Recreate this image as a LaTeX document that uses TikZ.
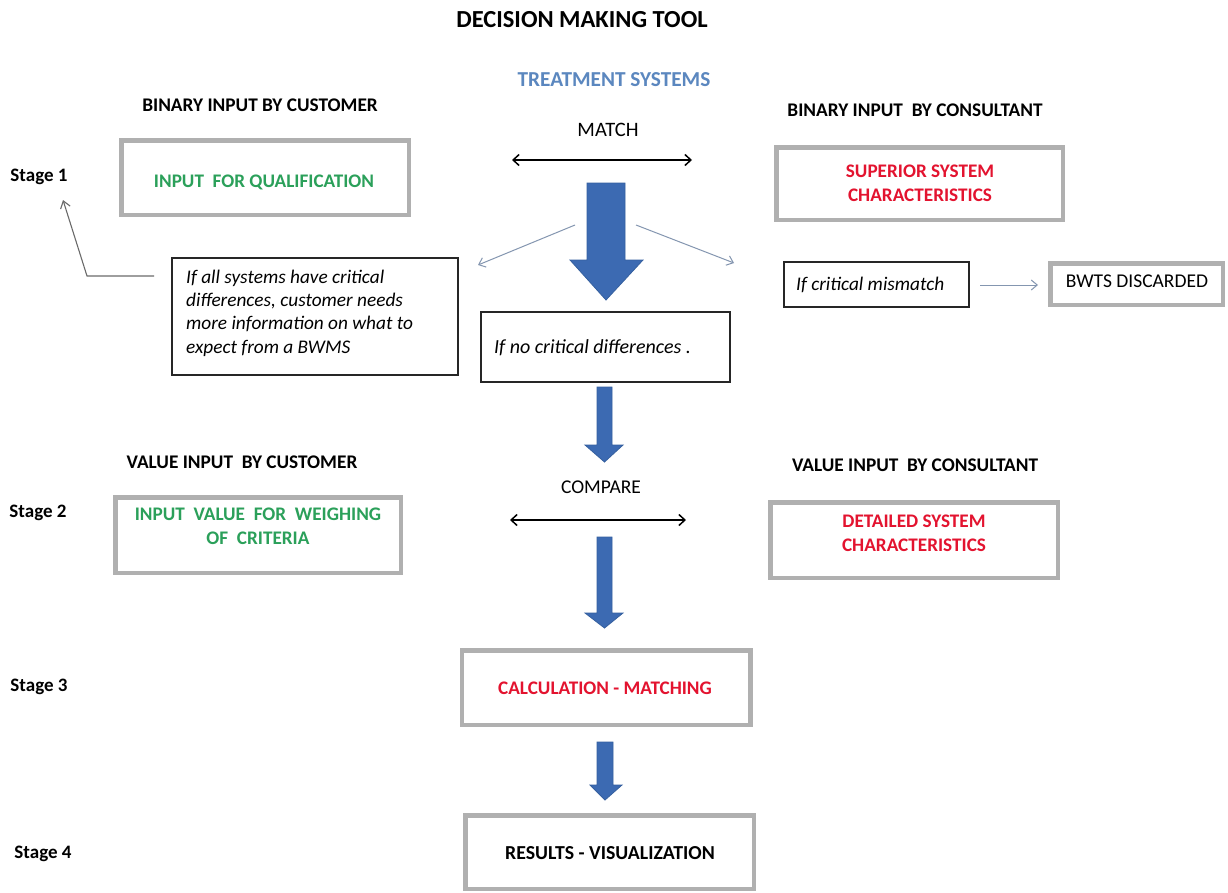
\documentclass[tikz,border=0pt]{standalone}
\usepackage{fontspec}
\setmainfont{Carlito}
\usetikzlibrary{arrows.meta}
\definecolor{boxgray}{HTML}{B0B0B0}
\definecolor{tgreen}{HTML}{2BA05A}
\definecolor{tred}{HTML}{E3132F}
\definecolor{tblue}{HTML}{5B87BF}
\definecolor{arrowblue}{HTML}{4A7CC4}
\definecolor{arrowdark}{HTML}{3C6AB2}
\definecolor{arrowlight}{HTML}{5A8DD6}
\definecolor{arrowedge}{HTML}{35609F}
\definecolor{thinarrow}{HTML}{8496B0}
\definecolor{stagearrow}{HTML}{6A6A6A}
\begin{document}
\begin{tikzpicture}[x=1pt,y=-1pt,
  hd/.style={font=\fontsize{19.3}{23}\selectfont\bfseries, inner sep=0pt},
  title/.style={font=\fontsize{24.5}{28}\selectfont\bfseries, inner sep=0pt},
  plain/.style={font=\fontsize{19.5}{23}\selectfont, inner sep=0pt},
  stagelbl/.style={font=\fontsize{19}{23}\selectfont\bfseries, inner sep=0pt},
  gbox/.style={draw=boxgray, line width=4.5pt, inner sep=0pt},
  kbox/.style={draw=black!85, line width=1.3pt, inner sep=0pt},
  note/.style={font=\fontsize{19.3}{23.3}\selectfont\itshape, align=left, inner sep=0pt},
  gtxt/.style={text=tgreen, font=\fontsize{19.2}{23.5}\selectfont\bfseries, align=center, inner sep=0pt},
  rtxt/.style={text=tred, font=\fontsize{19.2}{23.5}\selectfont\bfseries, align=center, inner sep=0pt},
  dbl/.style={{Straight Barb[length=6pt,width=11pt]}-{Straight Barb[length=6pt,width=11pt]}, line width=1.5pt, black},
  thin/.style={-{Straight Barb[length=6pt,width=10pt]}, line width=1pt, thinarrow},
  stagearr/.style={-{Straight Barb[length=7pt,width=10pt]}, line width=1.1pt, stagearrow},
  barrow/.style={left color=arrowdark, middle color=arrowlight, right color=arrowdark, draw=arrowedge, line width=0.8pt, line join=miter}
]
\useasboundingbox (0,0) rectangle (1228,892);
\fill[white] (0,0) rectangle (1228,892);

% headings
\node[title] (ttl) at (582,20) {DECISION MAKING TOOL};
\node[hd, text=tblue, font=\fontsize{21.3}{25}\selectfont\bfseries] (treat) at (614,80) {TREATMENT SYSTEMS};
\node[hd] (bic) at (260,105) {BINARY INPUT BY CUSTOMER};
\node[hd] (bicons) at (915,110) {BINARY INPUT\ \ BY CONSULTANT};
\node[plain, font=\fontsize{20.5}{23}\selectfont] (match) at (608,130) {MATCH};
\node[hd] (vic) at (242,462) {VALUE INPUT\ \ BY CUSTOMER};
\node[hd] (vicons) at (915,465) {VALUE INPUT\ \ BY CONSULTANT};
\node[plain] (compare) at (601,487) {COMPARE};

% stages
\node[stagelbl] (s1) at (39,177) {Stage 1};
\node[stagelbl] (s2) at (38,513) {Stage 2};
\node[stagelbl] (s3) at (39,687) {Stage 3};
\node[stagelbl] (s4) at (43,854) {Stage 4};

% gray boxes
\node[gbox, minimum width=287.5pt, minimum height=74.5pt] (qual) at (265,177.5) {};
\node[gtxt] (qualt) at (264,182) {INPUT\ \ FOR QUALIFICATION};
\node[gbox, minimum width=286.5pt, minimum height=72.5pt] (sup) at (919.5,183.5) {};
\node[rtxt] (supt) at (920,183.5) {SUPERIOR SYSTEM\\CHARACTERISTICS};
\node[gbox, minimum width=172.5pt, minimum height=41.5pt] (bwts) at (1136.5,284) {};
\node[plain] (bwtst) at (1137,281) {BWTS DISCARDED};
\node[gbox, minimum width=285.5pt, minimum height=75.5pt] (weigh) at (258,535) {};
\node[gtxt] (weight) at (258,526.5) {INPUT\ \ VALUE\ \ FOR\ \ WEIGHING\\OF\ \ CRITERIA};
\node[gbox, minimum width=287.5pt, minimum height=75.5pt] (det) at (914,540) {};
\node[rtxt] (dett) at (914,533.5) {DETAILED SYSTEM\\CHARACTERISTICS};
\node[gbox, minimum width=288.5pt, minimum height=74.5pt] (calc) at (606,687.5) {};
\node[rtxt] (calct) at (605,688) {CALCULATION - MATCHING};
\node[gbox, minimum width=288.5pt, minimum height=73.5pt] (res) at (609.5,852) {};
\node[hd, font=\fontsize{19.8}{23}\selectfont\bfseries] (rest) at (610,853) {RESULTS - VISUALIZATION};

% black note boxes
\node[kbox, minimum width=286pt, minimum height=117pt] (allsys) at (315,316.5) {};
\node[note, anchor=west] (allsyst) at (186,313) {If all systems have critical\\differences, customer needs\\more information on what to\\expect from a BWMS};
\node[kbox, minimum width=249pt, minimum height=70pt] (nocrit) at (605.5,347) {};
\node[note, anchor=west, font=\fontsize{20}{23.3}\selectfont\itshape] (nocritt) at (494,348) {If no critical differences .};
\node[kbox, minimum width=185pt, minimum height=45pt] (mism) at (876.5,284.5) {};
\node[note, anchor=west] (mismt) at (796,285) {If critical mismatch};

% double arrows
\coordinate (m1) at (512,160);
\coordinate (m2) at (692,160);
\draw[dbl] (m1) -- (m2);
\coordinate (c1) at (510,520);
\coordinate (c2) at (686,520);
\draw[dbl] (c1) -- (c2);

% thin arrows
\coordinate (tl0) at (575,225);
\coordinate (tl1) at (478,265);
\draw[thin] (tl0) -- (tl1);
\coordinate (tr0) at (636,225);
\coordinate (tr1) at (734,263);
\draw[thin] (tr0) -- (tr1);
\coordinate (mm0) at (980,285);
\coordinate (mm1) at (1038,285);
\draw[thin] (mm0) -- (mm1);
\coordinate (st0) at (154,276);
\coordinate (st1) at (87,276);
\coordinate (st2) at (63,200);
\draw[stagearr] (st0) -- (st1) -- (st2);

% block arrows
\draw[barrow] (587,183) -- (625,183) -- (625,260) -- (643,260) -- (606,300) -- (570,260) -- (587,260) -- cycle;
\draw[barrow] (597,387) -- (612,387) -- (612,445) -- (623,445) -- (604.5,462) -- (585,445) -- (597,445) -- cycle;
\draw[barrow] (597,537) -- (612,537) -- (612,613) -- (623,613) -- (604.5,628) -- (585,613) -- (597,613) -- cycle;
\draw[barrow] (597,742) -- (613,742) -- (613,785) -- (622,785) -- (605,800) -- (590,785) -- (597,785) -- cycle;
\end{tikzpicture}
\end{document}
